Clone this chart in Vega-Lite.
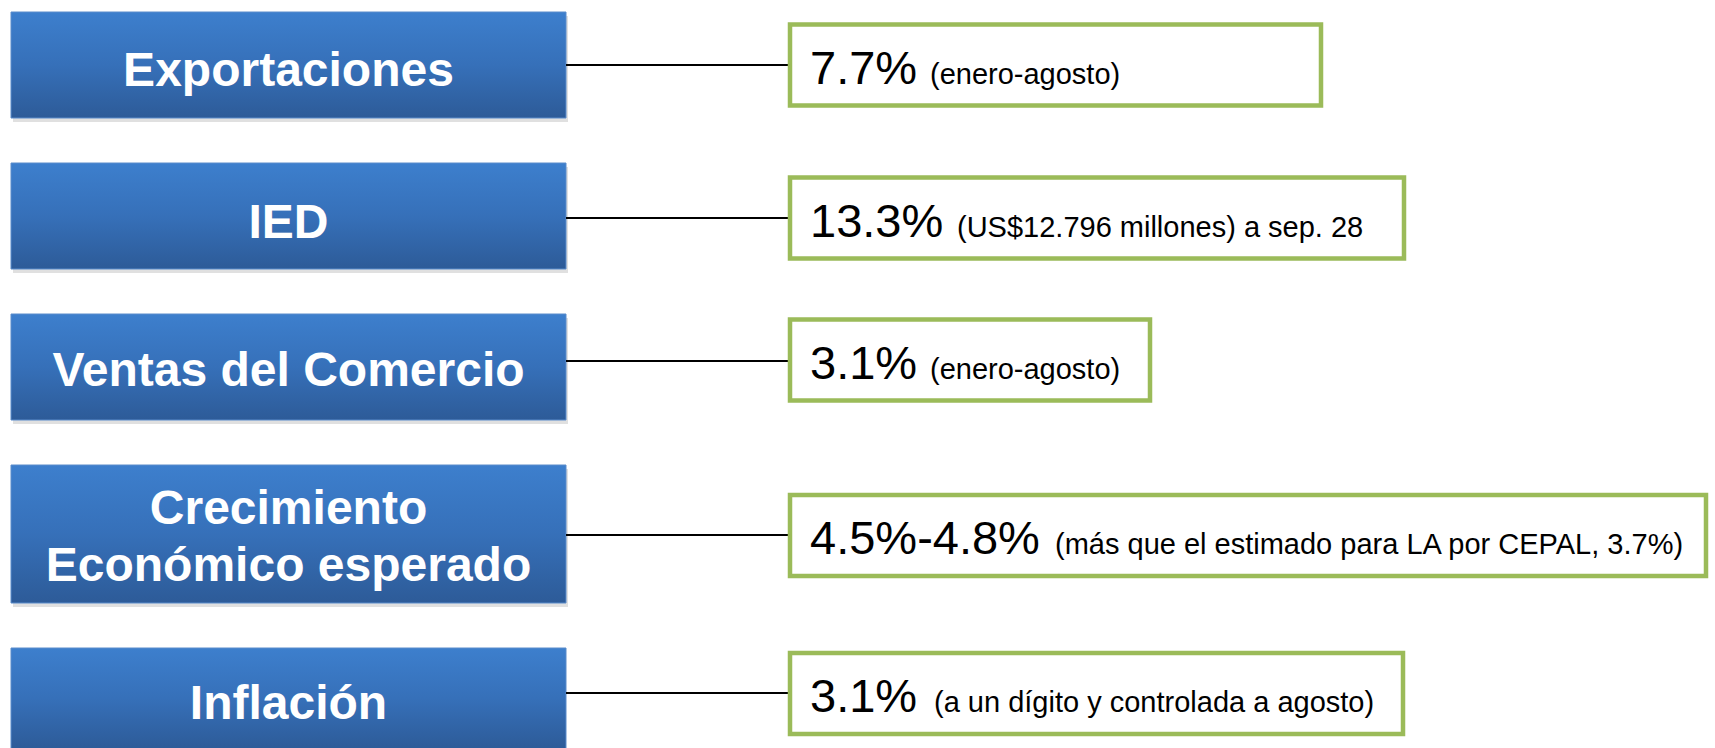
{
  "$schema": "https://vega.github.io/schema/vega-lite/v6.json",
  "background": "white",
  "padding": {"left": 0, "top": 11, "right": 0, "bottom": 0},
  "spacing": 45,
  "bounds": "flush",
  "config": {"view": {"stroke": null}, "concat": {"spacing": 45}},
  "data": {"values": [
    {"indicador": "Exportaciones", "etiqueta": "Exportaciones", "valor": "7.7%", "nota": "(enero-agosto)"},
    {"indicador": "IED", "etiqueta": "IED", "valor": "13.3%", "nota": "(US$12.796 millones) a sep. 28"},
    {"indicador": "Ventas del Comercio", "etiqueta": "Ventas del Comercio", "valor": "3.1%", "nota": "(enero-agosto)"},
    {"indicador": "Crecimiento Económico esperado", "etiqueta": "Crecimiento\nEconómico esperado", "valor": "4.5%-4.8%", "nota": "(más que el estimado para LA por CEPAL, 3.7%)"},
    {"indicador": "Inflación", "etiqueta": "Inflación", "valor": "3.1%", "nota": "(a un dígito y controlada a agosto)"}
  ]},
  "vconcat": [
    {
      "width": 1715, "height": 106,
      "transform": [{"filter": "datum.indicador === 'Exportaciones'"}],
      "encoding": {"y": {"field": "indicador", "type": "nominal", "axis": null, "scale": {"paddingInner": 0, "paddingOuter": 0}}},
      "layer": [
        {"mark": {"type": "bar", "fill": "#000000", "opacity": 0.12, "yOffset": 4},
         "encoding": {"x": {"datum": 13, "type": "quantitative", "axis": null, "scale": {"domain": [0, 1715], "nice": false, "zero": false}}, "x2": {"datum": 568}}},
        {"mark": {"type": "bar", "stroke": "#5A8CCB", "strokeWidth": 1, "fill": {"gradient": "linear", "x1": 0, "y1": 0, "x2": 0, "y2": 1, "stops": [{"offset": 0, "color": "#3D7FCD"}, {"offset": 0.5, "color": "#3670B9"}, {"offset": 1, "color": "#2D5B98"}]}},
         "encoding": {"x": {"datum": 11, "type": "quantitative"}, "x2": {"datum": 566}}},
        {"mark": {"type": "text", "align": "center", "baseline": "alphabetic", "dy": 21, "font": "Liberation Sans", "fontWeight": "bold", "fontSize": 48, "fill": "white", "lineBreak": "\n", "lineHeight": 57},
         "encoding": {"x": {"datum": 288.5, "type": "quantitative"}, "text": {"field": "etiqueta"}}},
        {"mark": {"type": "rule", "color": "#000000", "strokeWidth": 2, "yOffset": 0},
         "encoding": {"x": {"datum": 566, "type": "quantitative"}, "x2": {"datum": 790}}},
        {"mark": {"type": "bar", "height": 81, "fill": "white", "stroke": "#9BBB59", "strokeWidth": 4.5, "yOffset": 0},
         "encoding": {"x": {"datum": 790, "type": "quantitative"}, "x2": {"datum": 1321}}},
        {"mark": {"type": "text", "align": "left", "baseline": "alphabetic", "dy": 18.5, "yOffset": 0, "font": "Liberation Sans", "fontSize": 47, "fill": "black"},
         "encoding": {"x": {"datum": 810, "type": "quantitative"}, "text": {"field": "valor"}}},
        {"mark": {"type": "text", "align": "left", "baseline": "alphabetic", "dy": 18.5, "yOffset": 0, "font": "Liberation Sans", "fontSize": 29, "fill": "black"},
         "encoding": {"x": {"datum": 930, "type": "quantitative"}, "text": {"field": "nota"}}}
      ]
    },
    {
      "width": 1715, "height": 106,
      "transform": [{"filter": "datum.indicador === 'IED'"}],
      "encoding": {"y": {"field": "indicador", "type": "nominal", "axis": null, "scale": {"paddingInner": 0, "paddingOuter": 0}}},
      "layer": [
        {"mark": {"type": "bar", "fill": "#000000", "opacity": 0.12, "yOffset": 4},
         "encoding": {"x": {"datum": 13, "type": "quantitative", "axis": null, "scale": {"domain": [0, 1715], "nice": false, "zero": false}}, "x2": {"datum": 568}}},
        {"mark": {"type": "bar", "stroke": "#5A8CCB", "strokeWidth": 1, "fill": {"gradient": "linear", "x1": 0, "y1": 0, "x2": 0, "y2": 1, "stops": [{"offset": 0, "color": "#3D7FCD"}, {"offset": 0.5, "color": "#3670B9"}, {"offset": 1, "color": "#2D5B98"}]}},
         "encoding": {"x": {"datum": 11, "type": "quantitative"}, "x2": {"datum": 566}}},
        {"mark": {"type": "text", "align": "center", "baseline": "alphabetic", "dy": 22, "font": "Liberation Sans", "fontWeight": "bold", "fontSize": 48, "fill": "white", "lineBreak": "\n", "lineHeight": 57},
         "encoding": {"x": {"datum": 288.5, "type": "quantitative"}, "text": {"field": "etiqueta"}}},
        {"mark": {"type": "rule", "color": "#000000", "strokeWidth": 2, "yOffset": 2},
         "encoding": {"x": {"datum": 566, "type": "quantitative"}, "x2": {"datum": 790}}},
        {"mark": {"type": "bar", "height": 81, "fill": "white", "stroke": "#9BBB59", "strokeWidth": 4.5, "yOffset": 2},
         "encoding": {"x": {"datum": 790, "type": "quantitative"}, "x2": {"datum": 1404}}},
        {"mark": {"type": "text", "align": "left", "baseline": "alphabetic", "dy": 18.5, "yOffset": 2, "font": "Liberation Sans", "fontSize": 47, "fill": "black"},
         "encoding": {"x": {"datum": 810, "type": "quantitative"}, "text": {"field": "valor"}}},
        {"mark": {"type": "text", "align": "left", "baseline": "alphabetic", "dy": 18.5, "yOffset": 2, "font": "Liberation Sans", "fontSize": 29, "fill": "black"},
         "encoding": {"x": {"datum": 957, "type": "quantitative"}, "text": {"field": "nota"}}}
      ]
    },
    {
      "width": 1715, "height": 106,
      "transform": [{"filter": "datum.indicador === 'Ventas del Comercio'"}],
      "encoding": {"y": {"field": "indicador", "type": "nominal", "axis": null, "scale": {"paddingInner": 0, "paddingOuter": 0}}},
      "layer": [
        {"mark": {"type": "bar", "fill": "#000000", "opacity": 0.12, "yOffset": 4},
         "encoding": {"x": {"datum": 13, "type": "quantitative", "axis": null, "scale": {"domain": [0, 1715], "nice": false, "zero": false}}, "x2": {"datum": 568}}},
        {"mark": {"type": "bar", "stroke": "#5A8CCB", "strokeWidth": 1, "fill": {"gradient": "linear", "x1": 0, "y1": 0, "x2": 0, "y2": 1, "stops": [{"offset": 0, "color": "#3D7FCD"}, {"offset": 0.5, "color": "#3670B9"}, {"offset": 1, "color": "#2D5B98"}]}},
         "encoding": {"x": {"datum": 11, "type": "quantitative"}, "x2": {"datum": 566}}},
        {"mark": {"type": "text", "align": "center", "baseline": "alphabetic", "dy": 19, "font": "Liberation Sans", "fontWeight": "bold", "fontSize": 48, "fill": "white", "lineBreak": "\n", "lineHeight": 57},
         "encoding": {"x": {"datum": 288.5, "type": "quantitative"}, "text": {"field": "etiqueta"}}},
        {"mark": {"type": "rule", "color": "#000000", "strokeWidth": 2, "yOffset": -6},
         "encoding": {"x": {"datum": 566, "type": "quantitative"}, "x2": {"datum": 790}}},
        {"mark": {"type": "bar", "height": 81, "fill": "white", "stroke": "#9BBB59", "strokeWidth": 4.5, "yOffset": -7},
         "encoding": {"x": {"datum": 790, "type": "quantitative"}, "x2": {"datum": 1150}}},
        {"mark": {"type": "text", "align": "left", "baseline": "alphabetic", "dy": 18.5, "yOffset": -7, "font": "Liberation Sans", "fontSize": 47, "fill": "black"},
         "encoding": {"x": {"datum": 810, "type": "quantitative"}, "text": {"field": "valor"}}},
        {"mark": {"type": "text", "align": "left", "baseline": "alphabetic", "dy": 18.5, "yOffset": -7, "font": "Liberation Sans", "fontSize": 29, "fill": "black"},
         "encoding": {"x": {"datum": 930, "type": "quantitative"}, "text": {"field": "nota"}}}
      ]
    },
    {
      "width": 1715, "height": 138,
      "transform": [{"filter": "datum.indicador === 'Crecimiento Económico esperado'"}],
      "encoding": {"y": {"field": "indicador", "type": "nominal", "axis": null, "scale": {"paddingInner": 0, "paddingOuter": 0}}},
      "layer": [
        {"mark": {"type": "bar", "fill": "#000000", "opacity": 0.12, "yOffset": 4},
         "encoding": {"x": {"datum": 13, "type": "quantitative", "axis": null, "scale": {"domain": [0, 1715], "nice": false, "zero": false}}, "x2": {"datum": 568}}},
        {"mark": {"type": "bar", "stroke": "#5A8CCB", "strokeWidth": 1, "fill": {"gradient": "linear", "x1": 0, "y1": 0, "x2": 0, "y2": 1, "stops": [{"offset": 0, "color": "#3D7FCD"}, {"offset": 0.5, "color": "#3670B9"}, {"offset": 1, "color": "#2D5B98"}]}},
         "encoding": {"x": {"datum": 11, "type": "quantitative"}, "x2": {"datum": 566}}},
        {"mark": {"type": "text", "align": "center", "baseline": "alphabetic", "dy": -10, "font": "Liberation Sans", "fontWeight": "bold", "fontSize": 48, "fill": "white", "lineBreak": "\n", "lineHeight": 57},
         "encoding": {"x": {"datum": 288.5, "type": "quantitative"}, "text": {"field": "etiqueta"}}},
        {"mark": {"type": "rule", "color": "#000000", "strokeWidth": 2, "yOffset": 1},
         "encoding": {"x": {"datum": 566, "type": "quantitative"}, "x2": {"datum": 790}}},
        {"mark": {"type": "bar", "height": 81, "fill": "white", "stroke": "#9BBB59", "strokeWidth": 4.5, "yOffset": 1.5},
         "encoding": {"x": {"datum": 790, "type": "quantitative"}, "x2": {"datum": 1706}}},
        {"mark": {"type": "text", "align": "left", "baseline": "alphabetic", "dy": 18.5, "yOffset": 1.5, "font": "Liberation Sans", "fontSize": 47, "fill": "black"},
         "encoding": {"x": {"datum": 810, "type": "quantitative"}, "text": {"field": "valor"}}},
        {"mark": {"type": "text", "align": "left", "baseline": "alphabetic", "dy": 18.5, "yOffset": 1.5, "font": "Liberation Sans", "fontSize": 29, "fill": "black"},
         "encoding": {"x": {"datum": 1055, "type": "quantitative"}, "text": {"field": "nota"}}}
      ]
    },
    {
      "width": 1715, "height": 101,
      "transform": [{"filter": "datum.indicador === 'Inflación'"}],
      "encoding": {"y": {"field": "indicador", "type": "nominal", "axis": null, "scale": {"paddingInner": 0, "paddingOuter": 0}}},
      "layer": [
        {"mark": {"type": "bar", "stroke": "#5A8CCB", "strokeWidth": 1, "fill": {"gradient": "linear", "x1": 0, "y1": 0, "x2": 0, "y2": 1, "stops": [{"offset": 0, "color": "#3D7FCD"}, {"offset": 0.5, "color": "#3670B9"}, {"offset": 1, "color": "#2D5B98"}]}},
         "encoding": {"x": {"datum": 11, "type": "quantitative", "axis": null, "scale": {"domain": [0, 1715], "nice": false, "zero": false}}, "x2": {"datum": 566}}},
        {"mark": {"type": "text", "align": "center", "baseline": "alphabetic", "dy": 20.5, "font": "Liberation Sans", "fontWeight": "bold", "fontSize": 48, "fill": "white", "lineBreak": "\n", "lineHeight": 57},
         "encoding": {"x": {"datum": 288.5, "type": "quantitative"}, "text": {"field": "etiqueta"}}},
        {"mark": {"type": "rule", "color": "#000000", "strokeWidth": 2, "yOffset": -5.5},
         "encoding": {"x": {"datum": 566, "type": "quantitative"}, "x2": {"datum": 790}}},
        {"mark": {"type": "bar", "height": 81, "fill": "white", "stroke": "#9BBB59", "strokeWidth": 4.5, "yOffset": -5},
         "encoding": {"x": {"datum": 790, "type": "quantitative"}, "x2": {"datum": 1403}}},
        {"mark": {"type": "text", "align": "left", "baseline": "alphabetic", "dy": 18.5, "yOffset": -5, "font": "Liberation Sans", "fontSize": 47, "fill": "black"},
         "encoding": {"x": {"datum": 810, "type": "quantitative"}, "text": {"field": "valor"}}},
        {"mark": {"type": "text", "align": "left", "baseline": "alphabetic", "dy": 18.5, "yOffset": -5, "font": "Liberation Sans", "fontSize": 29, "fill": "black"},
         "encoding": {"x": {"datum": 934, "type": "quantitative"}, "text": {"field": "nota"}}}
      ]
    }
  ]
}
